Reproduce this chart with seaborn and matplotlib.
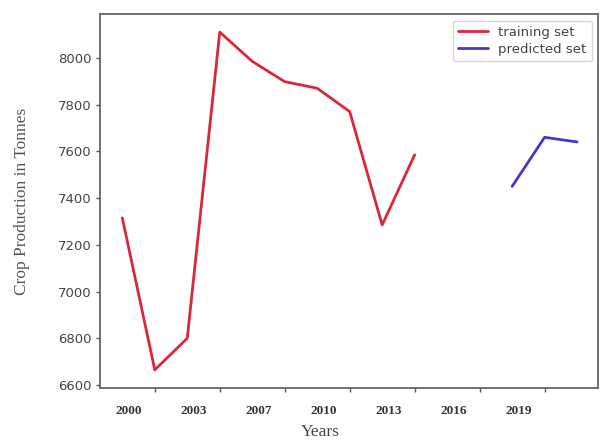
import numpy as np
import pandas as pd
import seaborn as sns
import matplotlib
matplotlib.use("Agg")
from matplotlib import pyplot as plt

# training and predicted crop production (tonnes)
train_pos = [0, 1, 2, 3, 4, 5, 6, 7, 8, 9]
train_vals = [7315, 6665, 6800, 8110, 7985, 7898, 7870, 7770, 7285, 7585]
pred_pos = [12, 13, 14]
pred_vals = [7450, 7660, 7640]
tick_pos = [1, 3, 5, 7, 9, 11, 13]
tick_labels = ["2000", "2003", "2007", "2010", "2013", "2016", "2019"]

train = pd.DataFrame({"pos": train_pos, "value": train_vals})
pred = pd.DataFrame({"pos": pred_pos, "value": pred_vals})

sns.set_style("white")
fig = plt.figure(figsize=(6, 4.42), dpi=100)
ax = fig.add_axes([0.167, 0.122, 0.830, 0.846])

sns.lineplot(data=train, x="pos", y="value", color="#d9283c", lw=2,
             label="training set", ax=ax)
sns.lineplot(data=pred, x="pos", y="value", color="#4338c8", lw=2,
             label="predicted set", ax=ax)

ax.set_xlim(-0.68, 14.65)
ax.set_ylim(6587, 8187)
ax.set_yticks(range(6600, 8001, 200))

# tick marks on the major ticks, year labels sit left of them (minor ticks)
ax.set_xticks(tick_pos)
ax.set_xticklabels([])
ax.set_xticks([p - 0.8 for p in tick_pos], minor=True)
ax.set_xticklabels(tick_labels, minor=True, family="Liberation Serif",
                   fontweight="bold", fontsize=9.5, color="#333333")
ax.tick_params(axis="x", which="minor", length=0, pad=12)

ax.tick_params(axis="both", which="major", direction="out", length=3,
               width=1, color="#555555", bottom=True, left=True)
ax.tick_params(axis="y", labelsize=9.5, labelcolor="#444444")
for s in ax.spines.values():
    s.set_color("#666666")
    s.set_linewidth(1.3)

ax.set_xlabel("Years", family="Liberation Serif", fontsize=12.5,
              color="#444444")
ax.xaxis.set_label_coords(0.442, -0.097)
ax.set_ylabel("Crop Production in Tonnes", family="Liberation Serif",
              fontsize=12.5, color="#555555", labelpad=20)

ax.legend(loc="upper right", fontsize=9.5, frameon=True, handlelength=2.2,
          borderpad=0.4, labelspacing=0.3, fancybox=True,
          labelcolor="#444444")

fig.savefig("out.png", dpi=100)
